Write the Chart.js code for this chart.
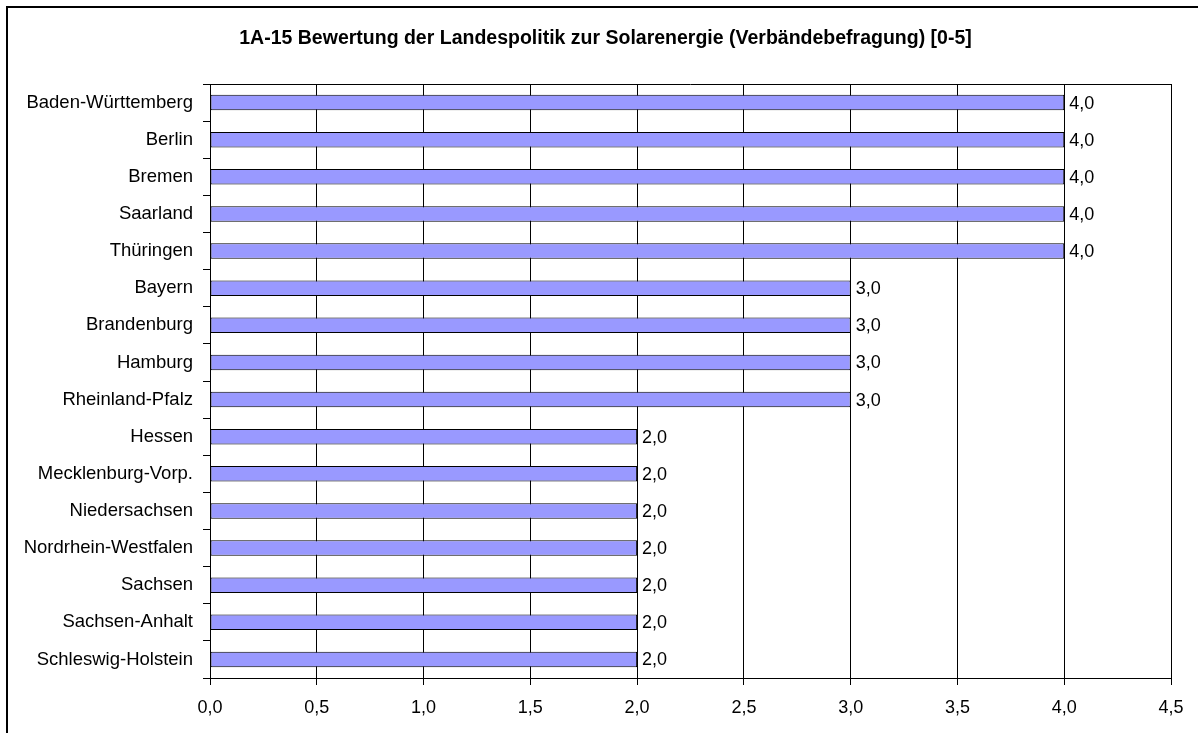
<!DOCTYPE html>
<html>
<head>
<meta charset="utf-8">
<script src="https://cdn.jsdelivr.net/npm/chart.js@4.4.0/dist/chart.umd.min.js"></script>
<style>
html,body{margin:0;padding:0;background:#fff;}
#wrap{position:relative;width:1198px;height:733px;}
</style>
</head>
<body>
<div id="wrap"><canvas id="c" width="1198" height="733"></canvas></div>
<script>
const chartTitle = "1A-15 Bewertung der Landespolitik zur Solarenergie (Verbändebefragung) [0-5]";
const categories = ["Baden-Württemberg","Berlin","Bremen","Saarland","Thüringen","Bayern","Brandenburg","Hamburg","Rheinland-Pfalz","Hessen","Mecklenburg-Vorp.","Niedersachsen","Nordrhein-Westfalen","Sachsen","Sachsen-Anhalt","Schleswig-Holstein"];
const values = [4.0,4.0,4.0,4.0,4.0,3.0,3.0,3.0,3.0,2.0,2.0,2.0,2.0,2.0,2.0,2.0];
const xMin = 0, xMax = 4.5, xStep = 0.5;

const FONT = "'Liberation Sans', Arial, sans-serif";
const fmt = v => v.toFixed(1).replace('.', ',');

const framePlugin = {
  id: 'frame',
  beforeDraw(chart) {
    const ctx = chart.ctx;
    ctx.save();
    ctx.fillStyle = '#fff';
    ctx.fillRect(0, 0, chart.width, chart.height);
    ctx.strokeStyle = '#000';
    ctx.lineWidth = 2;
    ctx.strokeRect(7, 7, chart.width + 20, chart.height + 20);
    ctx.restore();
  },
  afterDraw(chart) {
    const ctx = chart.ctx, a = chart.chartArea;
    ctx.save();
    ctx.strokeStyle = '#000';
    ctx.lineWidth = 1;
    ctx.beginPath();
    ctx.moveTo(a.left, Math.round(a.top) + 0.5);
    ctx.lineTo(a.right, Math.round(a.top) + 0.5);
    ctx.stroke();
    // title
    ctx.fillStyle = '#000';
    ctx.font = 'bold 19.5px ' + FONT;
    ctx.textAlign = 'center';
    ctx.textBaseline = 'middle';
    ctx.fillText(chartTitle, 605.5, 38.5);
    // value labels
    const meta = chart.getDatasetMeta(0);
    ctx.font = '18px ' + FONT;
    ctx.textAlign = 'left';
    meta.data.forEach((bar, i) => {
      ctx.fillText(fmt(values[i]), bar.x + 5, bar.y + 1);
    });
    ctx.restore();
  }
};

new Chart(document.getElementById('c'), {
  type: 'bar',
  data: {
    labels: categories,
    datasets: [{
      data: values,
      backgroundColor: '#9999FF',
      borderColor: '#000',
      borderWidth: 1,
      borderSkipped: false,
      barPercentage: 0.42,
      categoryPercentage: 1.0
    }]
  },
  options: {
    indexAxis: 'y',
    responsive: false,
    animation: false,
    devicePixelRatio: 1,
    layout: { padding: { left: 0, right: 27, top: 84, bottom: 0 } },
    plugins: {
      legend: { display: false },
      tooltip: { enabled: false },
      title: { display: false }
    },
    scales: {
      x: {
        min: xMin, max: xMax,
        afterFit(s) { s.height = 55; },
        ticks: {
          stepSize: xStep,
          color: '#000',
          padding: 12,
          font: { family: FONT, size: 18 },
          callback: v => fmt(v)
        },
        grid: { color: '#000', lineWidth: 1, tickLength: 7, drawTicks: true },
        border: { color: '#000', width: 1 }
      },
      y: {
        afterFit(s) { s.width = 210; },
        ticks: {
          color: '#000',
          padding: 10,
          font: { family: FONT, size: 18.5 }
        },
        grid: { offset: true, drawOnChartArea: false, drawTicks: true, tickLength: 7, color: '#000' },
        border: { color: '#000', width: 1 }
      }
    }
  },
  plugins: [framePlugin]
});
</script>
</body>
</html>
